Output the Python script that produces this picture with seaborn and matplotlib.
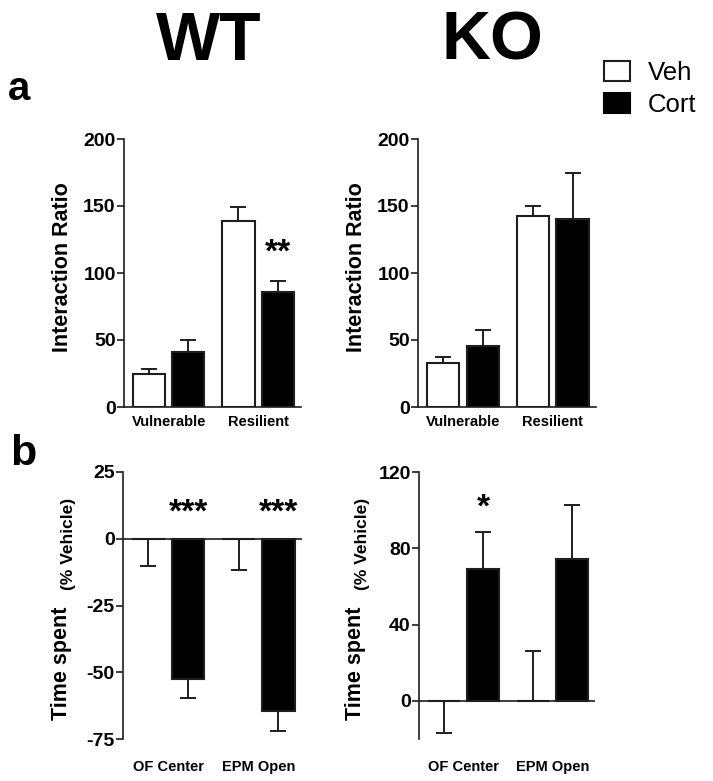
import matplotlib
matplotlib.use("Agg")
import matplotlib.pyplot as plt
from matplotlib.patches import Patch
import seaborn as sns
import pandas as pd

# ---------------- data ----------------
treatments = ["Veh", "Cort"]
categories_a = ["Vulnerable", "Resilient"]
categories_b = ["OF Center", "EPM Open"]

wt_veh_a = [25.0, 138.5]
wt_veh_a_err = [3.5, 11.0]
wt_cort_a = [41.0, 85.5]
wt_cort_a_err = [9.0, 8.5]

ko_veh_a = [32.7, 142.8]
ko_veh_a_err = [4.7, 7.5]
ko_cort_a = [45.2, 140.6]
ko_cort_a_err = [12.2, 34.2]

wt_veh_b = [0.0, 0.0]
wt_veh_b_err = [-10.1, -11.6]
wt_cort_b = [-52.7, -64.4]
wt_cort_b_err = [-7.1, -7.5]

ko_veh_b = [0.0, 0.0]
ko_veh_b_err = [-17.0, 25.9]
ko_cort_b = [69.2, 74.3]
ko_cort_b_err = [19.3, 28.2]

# significance marks: (category index, y value, text)
wt_a_sig = [(1, 115, "**")]
wt_b_sig = [(0, 9.5, "***"), (1, 9.5, "***")]
ko_b_sig = [(0, 101, "*")]

# ---------------- style ----------------
sns.set_style("ticks")
plt.rcParams["font.family"] = ["Liberation Sans", "DejaVu Sans"]
plt.rcParams["text.color"] = "black"
plt.rcParams["xtick.labelcolor"] = "black"
plt.rcParams["ytick.labelcolor"] = "black"
LINE = "#1e1e1e"

W, H = 713, 781
fig = plt.figure(figsize=(W / 100, H / 100), dpi=100)


def px_axes(x0, x1, ytop, ybot):
    return fig.add_axes([x0 / W, 1 - ybot / H, (x1 - x0) / W, (ybot - ytop) / H])


def panel(ax, cats, veh, veh_err, cort, cort_err, ylim, yticks, sigs, zero_axis, labelpad):
    df = pd.DataFrame({
        "category": cats + cats,
        "treatment": ["Veh"] * len(cats) + ["Cort"] * len(cats),
        "value": veh + cort,
    })
    sns.barplot(data=df, x="category", y="value", hue="treatment",
                hue_order=treatments, order=cats,
                palette={"Veh": "white", "Cort": "black"},
                edgecolor=LINE, linewidth=1.5, width=0.88, gap=0.18,
                errorbar=None, legend=False, ax=ax, zorder=2)
    errs = [veh_err, cort_err]
    for cont, es in zip(ax.containers, errs):
        for bar, e in zip(cont, es):
            x = bar.get_x() + bar.get_width() / 2
            y = bar.get_y() + bar.get_height()
            yerr = [[0], [e]] if e >= 0 else [[-e], [0]]
            ax.errorbar([x], [y], yerr=yerr, fmt="none", ecolor=LINE,
                        elinewidth=1.4, capsize=5.8, capthick=1.4, zorder=1)
    ax.set_xlim(-0.5, 1.48)
    ax.set_ylim(*ylim)
    ax.set_yticks(yticks)
    ax.set_yticklabels([str(t) for t in yticks], fontsize=14, fontweight="bold")
    ax.set_xlabel("")
    ax.set_ylabel("")
    for s in ["top", "right"]:
        ax.spines[s].set_visible(False)
    ax.spines["left"].set_color(LINE)
    ax.spines["left"].set_linewidth(1.2)
    ax.spines["bottom"].set_color(LINE)
    ax.spines["bottom"].set_linewidth(1.2)
    if zero_axis:
        ax.spines["bottom"].set_visible(False)
        ax.axhline(0, color=LINE, lw=1.2, zorder=3)
    ax.tick_params(axis="y", length=5, width=1.2, color=LINE, pad=1.0)
    ax.tick_params(axis="x", length=0, pad=labelpad)
    ax.set_xticks(range(len(cats)))
    ax.set_xticklabels(cats, fontsize=10.5, fontweight="bold")
    for ci, yv, txt in sigs:
        bar = ax.containers[1][ci]
        x = bar.get_x() + bar.get_width() / 2
        ax.text(x, yv, txt, ha="center", va="center", fontsize=24,
                fontweight="bold", color="black")
    ax.patch.set_alpha(0)


ax1 = px_axes(124, 301, 139, 407)
panel(ax1, categories_a, wt_veh_a, wt_veh_a_err, wt_cort_a, wt_cort_a_err,
      (0, 200), [0, 50, 100, 150, 200], wt_a_sig, False, 6)
ax2 = px_axes(418, 596, 139, 407)
panel(ax2, categories_a, ko_veh_a, ko_veh_a_err, ko_cort_a, ko_cort_a_err,
      (0, 200), [0, 50, 100, 150, 200], [], False, 6)
ax3 = px_axes(123, 302, 472, 739)
panel(ax3, categories_b, wt_veh_b, wt_veh_b_err, wt_cort_b, wt_cort_b_err,
      (-75, 25), [-75, -50, -25, 0, 25], wt_b_sig, True, 15)
ax4 = px_axes(419, 595, 472, 739)
panel(ax4, categories_b, ko_veh_b, ko_veh_b_err, ko_cort_b, ko_cort_b_err,
      (-20, 120), [0, 40, 80, 120], ko_b_sig, True, 15)


def ftext(x, y, s, **kw):
    fig.text(x / W, 1 - y / H, s, **kw)


# titles and panel letters
ftext(209, 60, "WT", ha="center", va="baseline", fontsize=49, fontweight="bold")
ftext(492, 60, "KO", ha="center", va="baseline", fontsize=49, fontweight="bold")
ftext(8, 100, "a", ha="left", va="baseline", fontsize=29, fontweight="bold")
ftext(10, 465, "b", ha="left", va="baseline", fontsize=31, fontweight="bold")

# y labels
for xc in (62, 356):
    ftext(xc, 267, "Interaction Ratio", rotation=90, ha="center", va="center",
          fontsize=15.5, fontweight="bold")
for xc in (62, 356):
    ftext(xc, 663, "Time spent", rotation=90, ha="center", va="center",
          fontsize=15.5, fontweight="bold")
    ftext(xc + 7, 544, "(% Vehicle)", rotation=90, ha="center", va="center",
          fontsize=12.5, fontweight="bold")

# legend
handles = [Patch(facecolor="white", edgecolor=LINE, linewidth=1.5),
           Patch(facecolor="black", edgecolor="black", linewidth=1.5)]
fig.legend(handles=handles, labels=treatments, loc="upper left",
           bbox_to_anchor=(604 / W, 1 - 61 / H), frameon=False, fontsize=18.5,
           handlelength=1.0, handleheight=0.85, handletextpad=0.7,
           labelspacing=0.3, borderpad=0, borderaxespad=0)

fig.savefig("out.png", dpi=100)
